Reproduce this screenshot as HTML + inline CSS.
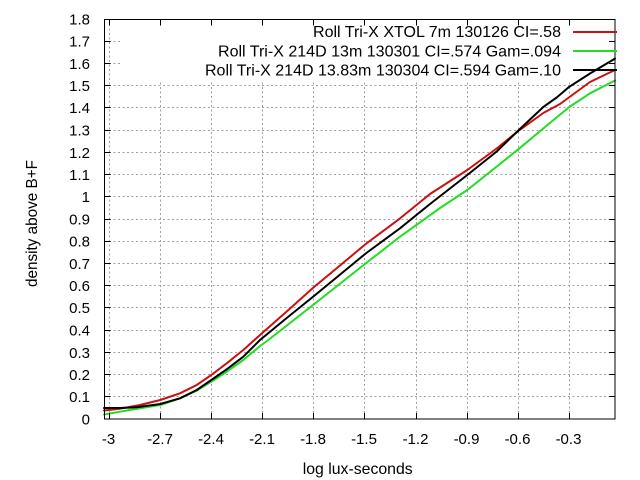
<!DOCTYPE html>
<html>
<head>
<meta charset="utf-8">
<style>
html,body{margin:0;padding:0;background:#fff;}
svg{display:block;}
text{font-family:"Liberation Sans",Arial,sans-serif;fill:#000;}
</style>
</head>
<body>
<svg width="640" height="480" viewBox="0 0 640 480" xmlns="http://www.w3.org/2000/svg">
<rect width="640" height="480" fill="#fff"/>
<g stroke="#a0a0a0" stroke-width="1" stroke-dasharray="2,2.5" fill="none">
<line x1="109" y1="396.5" x2="615" y2="396.5"/>
<line x1="109" y1="374.5" x2="615" y2="374.5"/>
<line x1="109" y1="352.5" x2="615" y2="352.5"/>
<line x1="109" y1="330.5" x2="615" y2="330.5"/>
<line x1="109" y1="307.5" x2="615" y2="307.5"/>
<line x1="109" y1="285.5" x2="615" y2="285.5"/>
<line x1="109" y1="263.5" x2="615" y2="263.5"/>
<line x1="109" y1="241.5" x2="615" y2="241.5"/>
<line x1="109" y1="219.5" x2="615" y2="219.5"/>
<line x1="109" y1="196.5" x2="615" y2="196.5"/>
<line x1="109" y1="174.5" x2="615" y2="174.5"/>
<line x1="109" y1="152.5" x2="615" y2="152.5"/>
<line x1="109" y1="130.5" x2="615" y2="130.5"/>
<line x1="109" y1="107.5" x2="615" y2="107.5"/>
<line x1="109" y1="85.5" x2="615" y2="85.5"/>
<line x1="109" y1="63.5" x2="120" y2="63.5"/>
<line x1="109" y1="41.5" x2="120" y2="41.5"/>
<line x1="109.5" y1="413" x2="109.5" y2="19"/>
<line x1="160.5" y1="413" x2="160.5" y2="80"/>
<line x1="211.5" y1="413" x2="211.5" y2="80"/>
<line x1="262.5" y1="413" x2="262.5" y2="80"/>
<line x1="313.5" y1="413" x2="313.5" y2="80"/>
<line x1="364.5" y1="413" x2="364.5" y2="80"/>
<line x1="416.5" y1="413" x2="416.5" y2="80"/>
<line x1="467.5" y1="413" x2="467.5" y2="80"/>
<line x1="518.5" y1="413" x2="518.5" y2="80"/>
<line x1="569.5" y1="413" x2="569.5" y2="80"/>
</g>
<g fill="none" stroke-width="2" stroke-linejoin="round" stroke-linecap="round">
<polyline stroke="#cc1010" points="104,410.5 120,408.7 140,405 160.3,400 180,393.3 196.7,385 211.3,375 226.7,363.3 243.3,350 260,335 286.7,311.5 314,287 340,265.5 365.7,244 400,218.4 430,194 467.3,170 496.7,148.5 518.3,131 543.3,113 560,104 590,82 615,70"/>
<polyline stroke="#22dd22" points="104,414.5 120,411.7 140,408.3 160.3,405 180,398.3 196.7,390.7 211.3,381.7 226.7,371.7 243.3,360 260,346 268.3,340 314.3,304 365.7,263.4 400,236.7 440,208 467.3,190 518.3,149.3 545,127 569.3,107 590,93.3 615,80.5"/>
<polyline stroke="#000" points="104,408 120,408 136.7,407.3 160.3,404 180,398.3 196.7,390 211.3,380 226.7,369.3 243.3,356.7 260,340 286.7,318 314,296 365.7,253.5 400,228.3 430,204 467.3,175 496.7,151.5 518.3,130.5 543.3,107 556.7,97.5 569.3,86.8 590,73.5 615,58.6"/>
</g>
<g stroke="#000" stroke-width="1" fill="none">
<rect x="104.5" y="19.5" width="510.5" height="399.5"/>
<path d="M104.5 396.5h6M104.5 374.5h6M104.5 352.5h6M104.5 330.5h6M104.5 307.5h6M104.5 285.5h6M104.5 263.5h6M104.5 241.5h6M104.5 219.5h6M104.5 196.5h6M104.5 174.5h6M104.5 152.5h6M104.5 130.5h6M104.5 107.5h6M104.5 85.5h6M104.5 63.5h6M104.5 41.5h6"/>
<path d="M615 396.5h-6M615 374.5h-6M615 352.5h-6M615 330.5h-6M615 307.5h-6M615 285.5h-6M615 263.5h-6M615 241.5h-6M615 219.5h-6M615 196.5h-6M615 174.5h-6M615 152.5h-6M615 130.5h-6M615 107.5h-6M615 85.5h-6M615 63.5h-6M615 41.5h-6"/>
<path d="M109.5 419v-6M160.5 419v-6M211.5 419v-6M262.5 419v-6M313.5 419v-6M364.5 419v-6M416.5 419v-6M467.5 419v-6M518.5 419v-6M569.5 419v-6"/>
<path d="M109.5 19.5v6M160.5 19.5v6M211.5 19.5v6M262.5 19.5v6M313.5 19.5v6M364.5 19.5v6M416.5 19.5v6M467.5 19.5v6M518.5 19.5v6M569.5 19.5v6"/>
</g>
<g font-size="15" text-anchor="end">
<text x="90" y="424.5">0</text>
<text x="90" y="402">0.1</text>
<text x="90" y="380">0.2</text>
<text x="90" y="358">0.3</text>
<text x="90" y="335.5">0.4</text>
<text x="90" y="313">0.5</text>
<text x="90" y="291">0.6</text>
<text x="90" y="269">0.7</text>
<text x="90" y="246.5">0.8</text>
<text x="90" y="224.5">0.9</text>
<text x="90" y="202">1</text>
<text x="90" y="180">1.1</text>
<text x="90" y="158">1.2</text>
<text x="90" y="135.5">1.3</text>
<text x="90" y="113">1.4</text>
<text x="90" y="91">1.5</text>
<text x="90" y="69">1.6</text>
<text x="90" y="46.5">1.7</text>
<text x="90" y="24.5">1.8</text>
</g>
<g font-size="15" text-anchor="middle">
<text x="108.5" y="444">-3</text>
<text x="160" y="444">-2.7</text>
<text x="211" y="444">-2.4</text>
<text x="262" y="444">-2.1</text>
<text x="313" y="444">-1.8</text>
<text x="364" y="444">-1.5</text>
<text x="415.5" y="444">-1.2</text>
<text x="466.5" y="444">-0.9</text>
<text x="517.5" y="444">-0.6</text>
<text x="568.5" y="444">-0.3</text>
</g>
<text x="357.7" y="474" font-size="16" text-anchor="middle" textLength="110" lengthAdjust="spacingAndGlyphs">log lux-seconds</text>
<text transform="translate(37,223.5) rotate(-90)" font-size="15.5" text-anchor="middle" textLength="127" lengthAdjust="spacingAndGlyphs">density above B+F</text>
<g font-size="16" text-anchor="end">
<text x="561" y="37" textLength="248" lengthAdjust="spacingAndGlyphs">Roll Tri-X XTOL 7m 130126 CI=.58</text>
<text x="561" y="56.5" textLength="343" lengthAdjust="spacingAndGlyphs">Roll Tri-X 214D 13m 130301 CI=.574 Gam=.094</text>
<text x="561" y="75.5" textLength="356" lengthAdjust="spacingAndGlyphs">Roll Tri-X 214D 13.83m 130304 CI=.594 Gam=.10</text>
</g>
<g stroke-width="2">
<line x1="573" y1="32" x2="617" y2="32" stroke="#cc1010"/>
<line x1="573" y1="51" x2="617" y2="51" stroke="#22dd22"/>
<line x1="573" y1="70" x2="617" y2="70" stroke="#000"/>
</g>
</svg>
</body>
</html>
